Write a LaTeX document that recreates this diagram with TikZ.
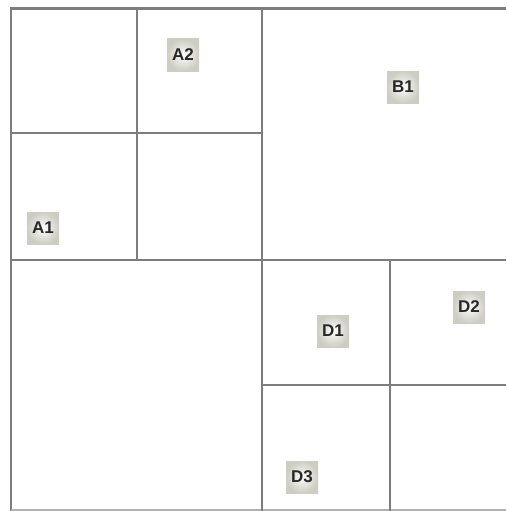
\documentclass[tikz,border=0pt]{standalone}
\usepackage{fontspec}
\setmainfont{Liberation Sans}
\usepackage{tikz}
\usetikzlibrary{calc,positioning}
\definecolor{gridgray}{RGB}{125,125,122}
\definecolor{tagedge}{RGB}{205,205,195}
\definecolor{tagtext}{RGB}{40,40,40}

\begin{document}
\begin{tikzpicture}[
  x=1pt, y=-1pt,
  grid line/.style={draw=gridgray, line width=2.9pt},
  tag/.style={rectangle, minimum width=32pt, minimum height=32pt, inner sep=0pt,
    shading=radial, inner color=white!96!tagedge, outer color=tagedge,
    text=tagtext, font=\bfseries\fontsize{17}{17}\selectfont}
]
  \useasboundingbox (0,0) rectangle (506,511);
  % outer frame (no right side)
  \draw[grid line] (506,8.5) -- (11,8.5) -- (11,511);
  \draw[draw=gridgray!60, line width=2pt] (11,510) -- (506,510);
  % quadrant lines
  \draw[grid line] (11,260) -- (506,260);
  \draw[grid line] (262,8.5) -- (262,511);
  % split of upper left quadrant
  \draw[grid line] (11,133) -- (262,133);
  \draw[grid line] (137,8.5) -- (137,260);
  % split of lower right quadrant
  \draw[grid line] (262,385) -- (506,385);
  \draw[grid line] (390,260) -- (390,511);
  % labels
  \node[tag] (A1) at (43,228)  {A1};
  \node[tag] (A2) at (183,55)  {A2};
  \node[tag] (B1) at (403,87)  {B1};
  \node[tag] (D1) at (333,331) {D1};
  \node[tag] (D2) at (469,307) {D2};
  \node[tag] (D3) at (302,477) {D3};
\end{tikzpicture}
\end{document}
